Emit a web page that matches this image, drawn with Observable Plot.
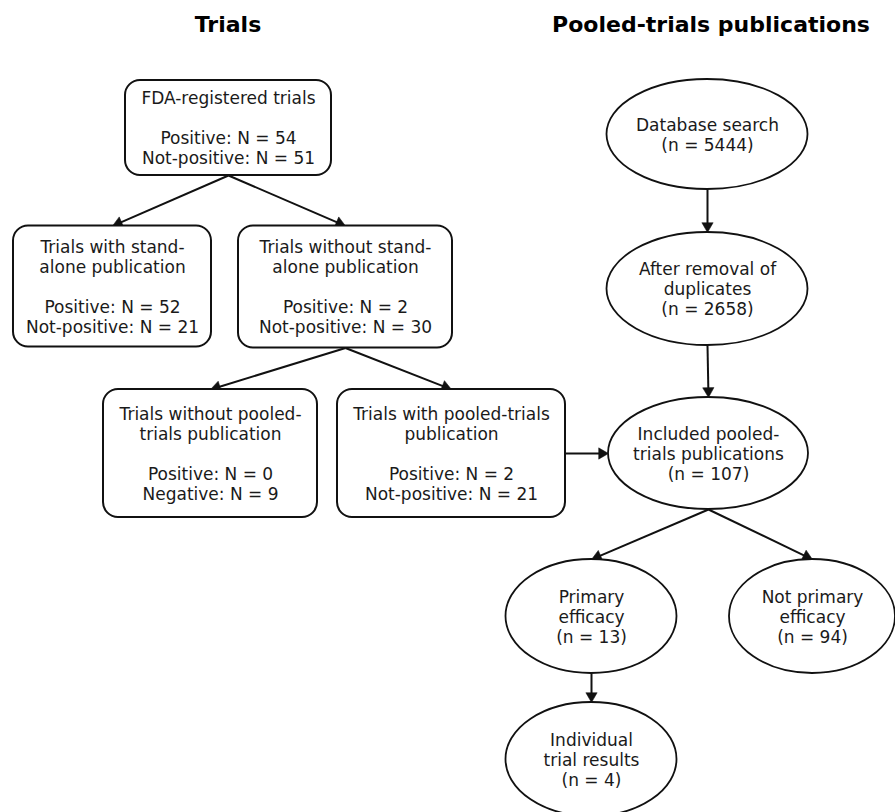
<!DOCTYPE html>
<html><head><meta charset="utf-8">
<script src="https://cdn.jsdelivr.net/npm/d3@7"></script>
<script src="https://cdn.jsdelivr.net/npm/@observablehq/plot@0.6"></script>
<style>html,body{margin:0;padding:0;background:#fff}</style>
</head><body><div id="chart"></div>
<script>
// ---- content ----
const sectionIds = ["trials", "pooledPubs"];
const sectionTitles = ["Trials", "Pooled-trials publications"];

const boxIds = ["fda", "standalone", "noStandalone", "noPooled", "pooled"];
const boxLabels = [
  "FDA-registered trials\n\nPositive: N = 54\nNot-positive: N = 51",
  "Trials with stand-\nalone publication\n\nPositive: N = 52\nNot-positive: N = 21",
  "Trials without stand-\nalone publication\n\nPositive: N = 2\nNot-positive: N = 30",
  "Trials without pooled-\ntrials publication\n\nPositive: N = 0\nNegative: N = 9",
  "Trials with pooled-trials\npublication\n\nPositive: N = 2\nNot-positive: N = 21"
];

const ellipseIds = ["search", "dedup", "included", "primary", "notPrimary", "individual"];
const ellipseLabels = [
  "Database search\n(n = 5444)",
  "After removal of\nduplicates\n(n = 2658)",
  "Included pooled-\ntrials publications\n(n = 107)",
  "Primary\nefficacy\n(n = 13)",
  "Not primary\nefficacy\n(n = 94)",
  "Individual\ntrial results\n(n = 4)"
];

const edgeFrom = ["fda", "fda", "noStandalone", "noStandalone", "pooled", "search", "dedup", "included", "included", "primary"];
const edgeTo   = ["standalone", "noStandalone", "noPooled", "pooled", "included", "dedup", "included", "primary", "notPrimary", "individual"];

// ---- layout (pixel positions of the diagram) ----
const layout = {
  trials:       {cx: 227.5, cy: 24},
  pooledPubs:   {cx: 710.5, cy: 24},
  fda:          {cx: 228, cy: 127.5, w: 206, h: 95},
  standalone:   {cx: 112, cy: 286, w: 198, h: 121},
  noStandalone: {cx: 345, cy: 286.5, w: 214, h: 122},
  noPooled:     {cx: 210, cy: 453, w: 214, h: 128},
  pooled:       {cx: 451, cy: 453, w: 228, h: 128},
  search:       {cx: 707, cy: 134, w: 201, h: 110},
  dedup:        {cx: 707, cy: 288.5, w: 201, h: 113},
  included:     {cx: 708, cy: 453, w: 200, h: 112},
  primary:      {cx: 591, cy: 616, w: 171, h: 114},
  notPrimary:   {cx: 812, cy: 616, w: 166, h: 114},
  individual:   {cx: 591, cy: 759, w: 171, h: 114}
};
const horizontalEdges = new Set(["pooled>included"]);

// ---- build tables ----
const boxes = boxIds.map((id, i) => ({id, label: boxLabels[i], ...layout[id]}));
const ellipses = ellipseIds.map((id, i) => ({id, label: ellipseLabels[i], ...layout[id]}));
const titles = sectionIds.map((id, i) => ({id, label: sectionTitles[i], ...layout[id]}));

const edges = edgeFrom.map((f, i) => {
  const a = layout[f], b = layout[edgeTo[i]];
  let x1, y1, x2, y2;
  if (horizontalEdges.has(f + ">" + edgeTo[i])) {
    x1 = a.cx + a.w / 2; y1 = a.cy; x2 = b.cx - b.w / 2; y2 = b.cy;
  } else {
    x1 = a.cx; y1 = a.cy + a.h / 2; x2 = b.cx; y2 = b.cy - b.h / 2;
  }
  const dx = x2 - x1, dy = y2 - y1, len = Math.hypot(dx, dy);
  const r = 4.2, tip = 1.555 * r;
  return {x1, y1, x2, y2,
    hx: x2 - dx / len * tip, hy: y2 - dy / len * tip,
    ex: x2 - dx / len * tip * 1.2, ey: y2 - dy / len * tip * 1.2,
    angle: Math.atan2(dx, -dy) * 180 / Math.PI};
});

const ink = "#111";
const chart = Plot.plot({
  width: 895, height: 812,
  margin: 0,
  x: {domain: [0, 895], range: [0, 895], axis: null},
  y: {domain: [0, 812], range: [0, 812], axis: null},
  style: {fontFamily: "'DejaVu Sans', Verdana, sans-serif", background: "#fff"},
  marks: [
    Plot.link(edges, {x1: "x1", y1: "y1", x2: "ex", y2: "ey", stroke: ink, strokeWidth: 2}),
    Plot.dot(edges, {x: "hx", y: "hy", symbol: "triangle", r: 4.2, rotate: "angle", fill: ink, stroke: ink, strokeWidth: 0.5}),
    Plot.rect(boxes, {x1: d => d.cx - d.w / 2, x2: d => d.cx + d.w / 2, y1: d => d.cy - d.h / 2, y2: d => d.cy + d.h / 2,
      rx: 15, ry: 15, fill: "white", stroke: ink, strokeWidth: 2}),
    Plot.rect(ellipses, {x1: d => d.cx - d.w / 2, x2: d => d.cx + d.w / 2, y1: d => d.cy - d.h / 2, y2: d => d.cy + d.h / 2,
      rx: 500, ry: 500, fill: "white", stroke: ink, strokeWidth: 1.8}),
    Plot.text(boxes, {x: "cx", y: "cy", text: "label", fontSize: 17, lineHeight: 1.176, fill: "#1a1a1a"}),
    Plot.text(ellipses, {x: "cx", y: "cy", text: "label", fontSize: 17, lineHeight: 1.176, fill: "#1a1a1a"}),
    Plot.text(titles, {x: "cx", y: "cy", text: "label", fontSize: 22, fontWeight: "bold", fill: "#000"})
  ]
});
document.getElementById("chart").appendChild(chart);
</script>
</body></html>
